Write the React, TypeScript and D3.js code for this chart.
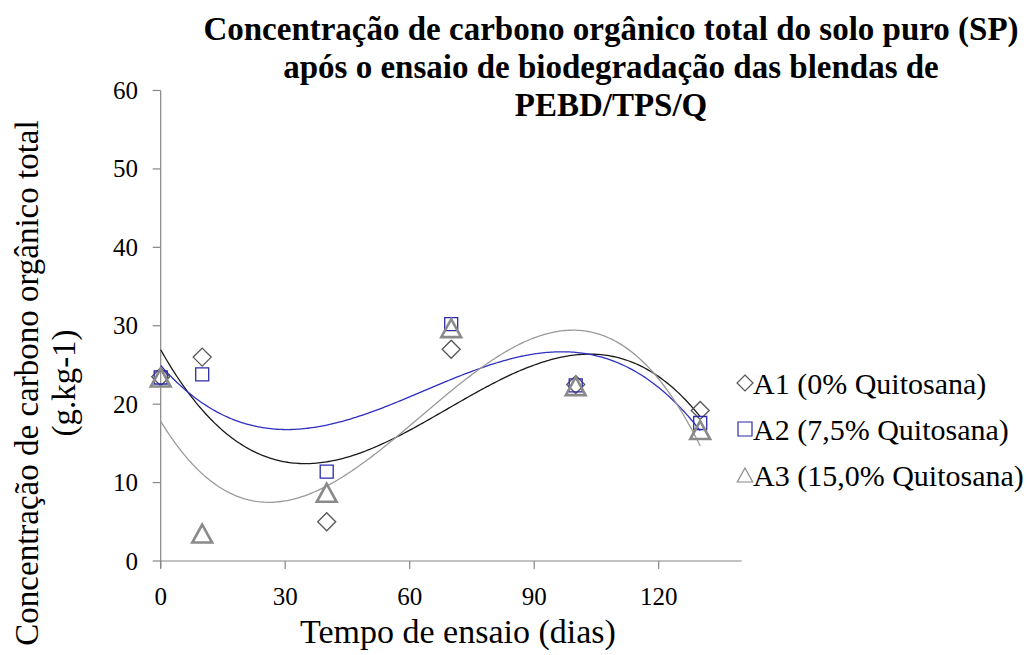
import React from "react";
import * as d3 from "d3";

const days = [0, 10, 40, 70, 100, 130];
const seriesA1 = [23.5, 26.0, 5.0, 27.0, 22.5, 19.2];
const seriesA2 = [23.4, 23.8, 11.4, 30.2, 22.4, 17.6];
const seriesA3 = [23.4, 3.5, 8.7, 29.7, 22.3, 16.7];
const seriesNames = ["A1 (0% Quitosana)", "A2 (7,5% Quitosana)", "A3 (15,0% Quitosana)"];
const xTicks = [0, 30, 60, 90, 120];
const yTicks = [0, 10, 20, 30, 40, 50, 60];
const titleLines = [
  "Concentração de carbono orgânico total do solo puro (SP)",
  "após o ensaio de biodegradação das blendas de",
  "PEBD/TPS/Q",
];
const xTitle = "Tempo de ensaio (dias)";
const yTitleLines = ["Concentração de carbono orgânico total", "(g.kg-1)"];

const W = 1028;
const H = 655;
const FONT = "Liberation Serif, Tinos, DejaVu Serif, Times New Roman, serif";

function polyfit(xs: number[], ys: number[], deg: number): number[] {
  const n = deg + 1;
  const A: number[][] = Array.from({ length: n }, () => new Array(n + 1).fill(0));
  xs.forEach((x, k) => {
    const t = x / 100;
    for (let i = 0; i < n; i++) {
      for (let j = 0; j < n; j++) A[i][j] += Math.pow(t, i + j);
      A[i][n] += ys[k] * Math.pow(t, i);
    }
  });
  for (let c = 0; c < n; c++) {
    let p = c;
    for (let r = c + 1; r < n; r++) if (Math.abs(A[r][c]) > Math.abs(A[p][c])) p = r;
    [A[c], A[p]] = [A[p], A[c]];
    for (let r = 0; r < n; r++) {
      if (r === c) continue;
      const f = A[r][c] / A[c][c];
      for (let k = c; k <= n; k++) A[r][k] -= f * A[c][k];
    }
  }
  return A.map((row, i) => row[n] / row[i]);
}

function evalPoly(c: number[], x: number) {
  const t = x / 100;
  return c.reduce((s, ci, i) => s + ci * Math.pow(t, i), 0);
}

const series = [
  { name: seriesNames[0], values: seriesA1, marker: "diamond", stroke: "#555555", line: "#1a1a1a", sw: 1.3, lg: 16 },
  { name: seriesNames[1], values: seriesA2, marker: "square", stroke: "#2b2ba8", line: "#2f2fc0", sw: 1.3, lg: 14 },
  { name: seriesNames[2], values: seriesA3, marker: "triangle", stroke: "#8a8a8a", line: "#9a9a9a", sw: 2.6, lg: 14 },
];

function markerPath(type: string, size: number) {
  const h = size / 2;
  if (type === "diamond") return `M0,${-h}L${h},0L0,${h}L${-h},0Z`;
  if (type === "square") return `M${-h},${-h}H${h}V${h}H${-h}Z`;
  return `M0,${-h}L${h * 1.1},${h}L${-h * 1.1},${h}Z`;
}

export default function App() {
  const x = d3.scaleLinear().domain([0, 140]).range([160.7, 741.7]);
  const y = d3.scaleLinear().domain([0, 60]).range([561, 90.5]);
  const line = d3
    .line<[number, number]>()
    .x((d) => x(d[0]))
    .y((d) => y(d[1]));
  const samples = d3.range(0, 130.01, 0.5);
  const axisColor = "#868686";
  const tStyle = { fontFamily: FONT } as React.CSSProperties;

  return (
    <svg width={W} height={H} style={{ position: "absolute", left: 0, top: 0, background: "#fff" }}>
      <rect width={W} height={H} fill="#fff" />
      {titleLines.map((t, i) => (
        <text key={i} x={611} y={40 + i * 38} textAnchor="middle" style={tStyle} fontWeight="bold" fontSize={33} fill="#000">
          {t}
        </text>
      ))}
      <line x1={x(0)} x2={x(0)} y1={y(60)} y2={y(0) + 7} stroke={axisColor} strokeWidth={1.2} />
      <line x1={x(0)} x2={x(140)} y1={y(0)} y2={y(0)} stroke={axisColor} strokeWidth={1.2} />
      {yTicks.map((t) => (
        <g key={"y" + t}>
          <line x1={x(0) - 8} x2={x(0)} y1={y(t)} y2={y(t)} stroke={axisColor} strokeWidth={1.2} />
          <text x={138} y={y(t) + 8.5} textAnchor="end" style={tStyle} fontSize={25} fill="#000">
            {t}
          </text>
        </g>
      ))}
      {xTicks.map((t) => (
        <g key={"x" + t}>
          <line x1={x(t)} x2={x(t)} y1={y(0)} y2={y(0) + 8} stroke={axisColor} strokeWidth={1.2} />
          <text x={x(t)} y={605} textAnchor="middle" style={tStyle} fontSize={25} fill="#000">
            {t}
          </text>
        </g>
      ))}
      <text x={458} y={643} textAnchor="middle" style={tStyle} fontSize={34} fill="#000">
        {xTitle}
      </text>
      {yTitleLines.map((t, i) => (
        <text
          key={i}
          transform={`translate(${38 + i * 37},383) rotate(-90)`}
          textAnchor="middle"
          style={tStyle}
          fontSize={33}
          fill="#000"
        >
          {t}
        </text>
      ))}
      {series.map((s) => {
        const c = polyfit(days, s.values, 3);
        const pts = samples.map((d) => [d, evalPoly(c, d)] as [number, number]);
        return <path key={"l" + s.name} d={line(pts) || ""} fill="none" stroke={s.line} strokeWidth={1.3} />;
      })}
      {series.map((s) => (
        <g key={"m" + s.name}>
          {s.values.map((v, i) => (
            <path
              key={i}
              transform={`translate(${x(days[i])},${y(v)})`}
              d={markerPath(s.marker, s.marker === "diamond" ? 18 : s.marker === "square" ? 13 : 18)}
              fill="none"
              stroke={s.stroke}
              strokeWidth={s.sw}
            />
          ))}
        </g>
      ))}
      {series.map((s, i) => {
        const cy = 383 + i * 46;
        return (
          <g key={"lg" + s.name}>
            <path
              transform={`translate(745,${cy})`}
              d={markerPath(s.marker, s.lg)}
              fill="none"
              stroke={s.stroke}
              strokeWidth={1.2}
            />
            <text x={753} y={cy + 11} style={tStyle} fontSize={30} fill="#000">
              {s.name}
            </text>
          </g>
        );
      })}
    </svg>
  );
}
